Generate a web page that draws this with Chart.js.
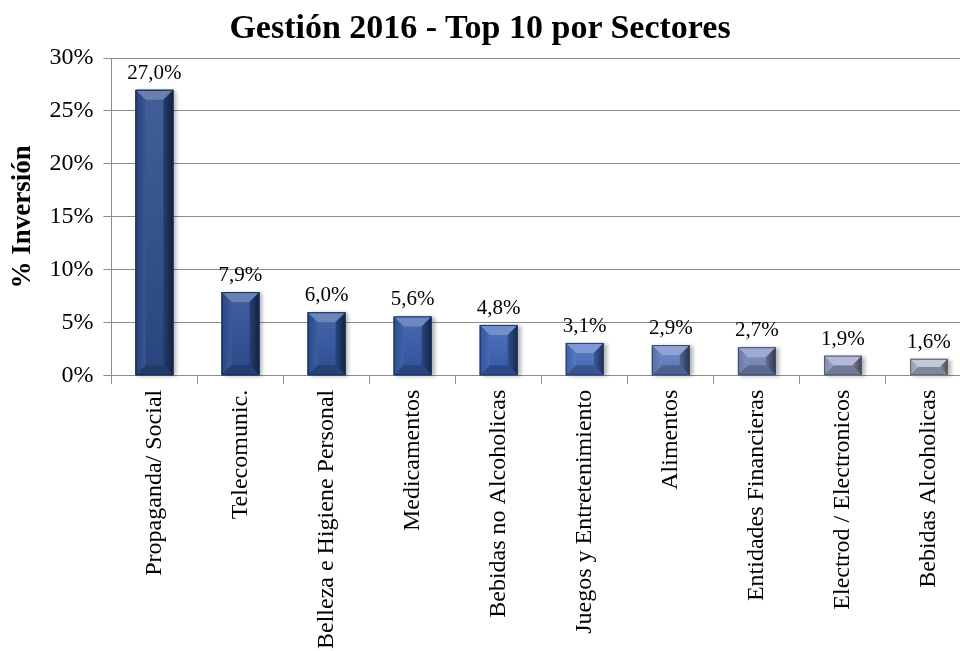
<!DOCTYPE html>
<html>
<head>
<meta charset="utf-8">
<title>Gestión 2016 - Top 10 por Sectores</title>
<script src="https://cdn.jsdelivr.net/npm/chart.js@4.4.1/dist/chart.umd.min.js"></script>
<style>
  html, body { margin: 0; padding: 0; background: #fff; overflow: hidden; }
  #wrap { position: relative; width: 960px; height: 651px; overflow: hidden; }
  #titulo {
    position: absolute; left: 0; top: 8px; width: 960px; text-align: center;
    font: bold 34px "Liberation Serif", "Times New Roman", serif; color: #000;
  }
  #box { position: absolute; left: 0; top: 0; width: 980px; height: 651px; }
</style>
</head>
<body>
<div id="wrap">
  <div id="box"><canvas id="chart"></canvas></div>
  <div id="titulo">Gestión 2016 - Top 10 por Sectores</div>
</div>
<script>
/* ---------- datos ---------- */
const sectores = [
  "Propaganda/ Social",
  "Telecomunic.",
  "Belleza e Higiene Personal",
  "Medicamentos",
  "Bebidas no Alcoholicas",
  "Juegos y Entretenimiento",
  "Alimentos",
  "Entidades Financieras",
  "Electrod / Electronicos",
  "Bebidas Alcoholicas"
];
const inversion = [27.0, 7.9, 6.0, 5.6, 4.8, 3.1, 2.9, 2.7, 1.9, 1.6];
const ticksY = [0, 5, 10, 15, 20, 25, 30];

// de azul oscuro a gris azulado
const colores = [
  "#2e4d8c", "#2f5196", "#31559f", "#355aa8", "#3b63b5",
  "#4b71c2", "#6580c2", "#7a8abe", "#97a1c6", "#adb3ca"
];

const SERIF = '"Liberation Serif", "Times New Roman", serif';
const GRIS = "#8c8c8c";

/* ---------- helpers de color ---------- */
function mezcla(hex, otro, t) {
  const a = parseInt(hex.slice(1), 16), b = parseInt(otro.slice(1), 16);
  const r = Math.round(((a >> 16) & 255) * (1 - t) + ((b >> 16) & 255) * t);
  const g = Math.round(((a >> 8) & 255) * (1 - t) + ((b >> 8) & 255) * t);
  const bl = Math.round((a & 255) * (1 - t) + (b & 255) * t);
  return `rgb(${r},${g},${bl})`;
}

function poly(ctx, pts, fill) {
  ctx.beginPath();
  ctx.moveTo(pts[0][0], pts[0][1]);
  for (let i = 1; i < pts.length; i++) ctx.lineTo(pts[i][0], pts[i][1]);
  ctx.closePath();
  ctx.fillStyle = fill;
  ctx.fill();
}

/* ---------- plugin: biselado + etiquetas ---------- */
const bisel = {
  id: "bisel",
  afterDatasetsDraw(chart) {
    const ctx = chart.ctx;
    const meta = chart.getDatasetMeta(0);
    meta.data.forEach((bar, i) => {
      const L = bar.x - bar.width / 2, R = bar.x + bar.width / 2;
      const T = bar.y, B = bar.base;
      const b = Math.min(10, (B - T) / 2, bar.width / 2);
      const c = colores[i];
      ctx.save();
      // sombra
      ctx.shadowColor = "rgba(0,0,0,0.3)";
      ctx.shadowBlur = 4;
      ctx.shadowOffsetX = 3;
      ctx.shadowOffsetY = 1;
      const grad = ctx.createLinearGradient(0, T, 0, B);
      grad.addColorStop(0, mezcla(c, "#ffffff", 0.1));
      grad.addColorStop(1, mezcla(c, "#000000", 0.1));
      ctx.fillStyle = grad;
      ctx.fillRect(L, T, R - L, B - T);
      ctx.restore();

      poly(ctx, [[L, T], [R, T], [R - b, T + b], [L + b, T + b]], mezcla(c, "#ffffff", 0.28));
      const gl = ctx.createLinearGradient(L, 0, L + b, 0);
      gl.addColorStop(0, mezcla(c, "#000000", 0.15));
      gl.addColorStop(1, mezcla(c, "#ffffff", 0.05));
      poly(ctx, [[L, T], [L + b, T + b], [L + b, B - b], [L, B]], gl);
      const gr = ctx.createLinearGradient(R - b, 0, R, 0);
      gr.addColorStop(0, mezcla(c, "#000000", 0.2));
      gr.addColorStop(1, mezcla(c, "#000000", 0.6));
      poly(ctx, [[R, T], [R, B], [R - b, B - b], [R - b, T + b]], gr);
      poly(ctx, [[L, B], [R, B], [R - b, B - b], [L + b, B - b]], mezcla(c, "#000000", 0.25));
      ctx.strokeStyle = mezcla(c, "#000000", 0.45);
      ctx.lineWidth = 1;
      ctx.strokeRect(L + 0.5, T + 0.5, R - L - 1, B - T - 1);

      // etiqueta de valor
      ctx.fillStyle = "#000";
      ctx.font = "21px " + SERIF;
      ctx.textAlign = "center";
      ctx.textBaseline = "bottom";
      ctx.fillText(inversion[i].toFixed(1).replace(".", ",") + "%", bar.x, T - 6);
    });
  }
};

/* ---------- grafico ---------- */
new Chart(document.getElementById("chart"), {
  type: "bar",
  data: {
    labels: sectores,
    datasets: [{
      data: inversion,
      backgroundColor: colores,
      borderWidth: 0,
      barPercentage: 0.88,
      categoryPercentage: 0.5
    }]
  },
  options: {
    responsive: true,
    maintainAspectRatio: false,
    animation: false,
    layout: { padding: { top: 58, left: 5, right: 8, bottom: -4 } },
    plugins: {
      legend: { display: false },
      tooltip: { enabled: false }
    },
    scales: {
      x: {
        grid: { drawOnChartArea: false, color: GRIS, tickLength: 8 },
        border: { color: GRIS },
        ticks: {
          color: "#000",
          font: { family: SERIF, size: 24 },
          maxRotation: 90,
          minRotation: 90,
          autoSkip: false,
          padding: 6
        }
      },
      y: {
        min: 0,
        max: 30,
        afterBuildTicks: (axis) => { axis.ticks = ticksY.map((v) => ({ value: v })); },
        grid: { color: GRIS, tickLength: 8 },
        border: { color: GRIS },
        ticks: {
          color: "#000",
          font: { family: SERIF, size: 24 },
          padding: 10,
          callback: (v) => v + "%"
        },
        title: {
          display: true,
          text: "% Inversión",
          color: "#000",
          font: { family: SERIF, size: 27, weight: "bold" },
          padding: { top: 2, bottom: 0 }
        }
      }
    }
  },
  plugins: [bisel]
});
</script>
</body>
</html>
